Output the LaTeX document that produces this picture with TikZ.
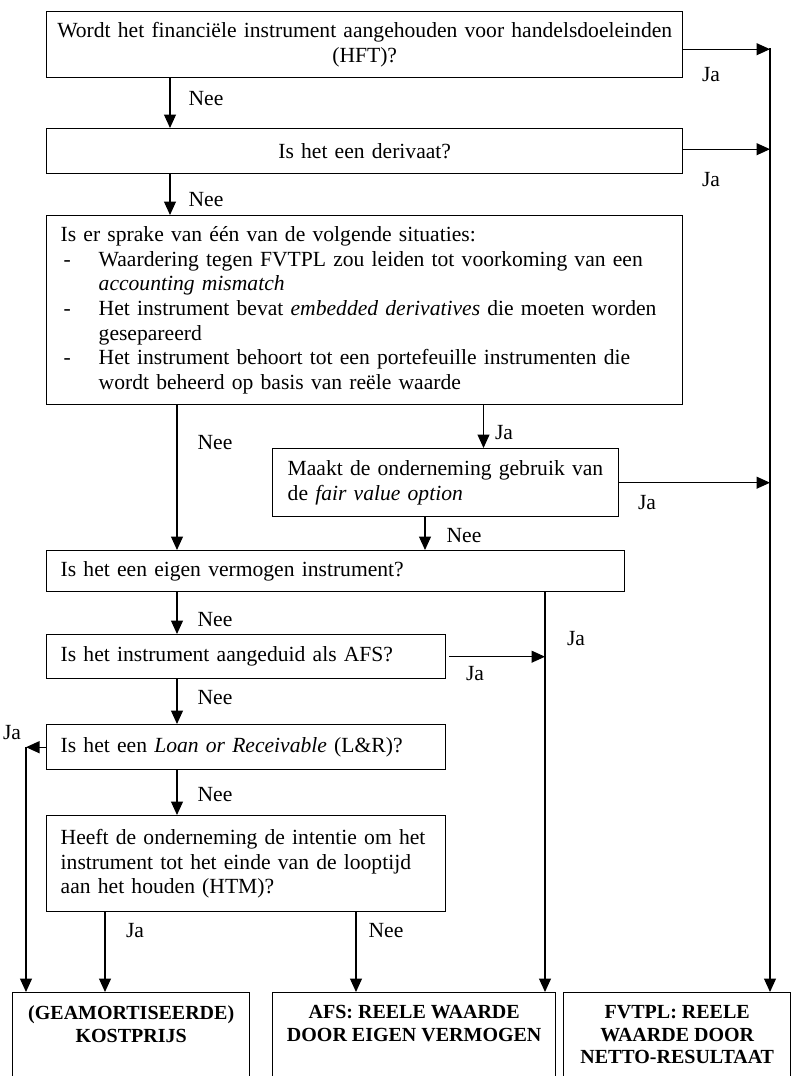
\documentclass[tikz,border=0pt]{standalone}
\usepackage{fontspec}
\setmainfont{Liberation Serif}
\usetikzlibrary{arrows.meta}
\newcommand\fsbody{\fontsize{21.6}{24.7}\selectfont}
\newcommand\fsbold{\fontsize{20}{22.5}\selectfont\bfseries}
\newcommand\ind{\makebox[38pt][l]{}}
\newcommand\dsh{\makebox[38pt][l]{\hspace{3pt}-}}
\begin{document}
\begin{tikzpicture}[x=1pt,y=-1pt,
  box/.style={draw,line width=1.4pt,anchor=north west,inner ysep=0pt,inner xsep=14pt,font=\fsbody},
  lbox/.style={box,align=left},
  endbox/.style={draw,line width=1.4pt,anchor=north west,inner sep=0pt},
  lab/.style={font=\fsbody,inner sep=0pt},
  arr/.style={line width=1.2pt,-{Triangle[length=13.5pt,width=12pt]}}]
\useasboundingbox (0,0) rectangle (794,1076);
\clip (0,0) rectangle (794,1076);

% boxes
\node[box,align=center,inner xsep=8pt,text width=620pt,minimum height=66pt] (b1) at (46,11)
  {Wordt het financiële instrument aangehouden voor handelsdoeleinden\\(HFT)?};
\node[box,align=center,inner xsep=8pt,text width=620pt,minimum height=45pt] (b2) at (46,128)
  {Is het een derivaat?};
\node[lbox,text width=608pt,minimum height=189pt] (b3) at (46,215)
  {\mbox{Is er sprake van één van de volgende situaties:}\\
   \mbox{\dsh Waardering tegen FVTPL zou leiden tot voorkoming van een}\\
   \mbox{\ind\textit{accounting mismatch}}\\
   \mbox{\dsh Het instrument bevat \textit{embedded derivatives} die moeten worden}\\
   \mbox{\ind gesepareerd}\\
   \mbox{\dsh Het instrument behoort tot een portefeuille instrumenten die}\\
   \mbox{\ind wordt beheerd op basis van reële waarde}};
\node[lbox,inner xsep=15pt,text width=316pt,minimum height=68pt] (fv) at (272,448)
  {\mbox{Maakt de onderneming gebruik van}\\\mbox{de \textit{fair value option}}};
\node[lbox,text width=550pt,minimum height=41pt] (ev) at (46,550)
  {\mbox{Is het een eigen vermogen instrument?}};
\node[lbox,text width=371pt,minimum height=44pt] (afs) at (46,634)
  {\mbox{Is het instrument aangeduid als AFS?}};
\node[lbox,text width=371pt,minimum height=45pt] (lr) at (46,724)
  {\mbox{Is het een \textit{Loan or Receivable} (L\&R)?}};
\node[lbox,text width=371pt,minimum height=96pt] (htm) at (46,815)
  {\mbox{Heeft de onderneming de intentie om het}\\
   \mbox{instrument tot het einde van de looptijd}\\
   \mbox{aan het houden (HTM)?}};

\node[endbox] (cA) at (12,992)
  {\parbox[c][150pt][t]{237pt}{\fsbold\centering\vspace*{13pt}(GEAMORTISEERDE)\\KOSTPRIJS}};
\node[endbox] (cB) at (272,992)
  {\parbox[c][150pt][t]{283pt}{\fsbold\centering\vspace*{13pt}AFS: REELE WAARDE\\DOOR EIGEN VERMOGEN}};
\node[endbox] (cC) at (563,992)
  {\parbox[c][150pt][t]{227pt}{\fsbold\centering\vspace*{13pt}FVTPL: REELE\\WAARDE DOOR\\NETTO-RESULTAAT}};

% helper coordinates
\coordinate (xA) at (170,0);
\coordinate (xB) at (177,0);
\coordinate (rt) at (770,48);
\coordinate (xJa) at (483.5,0);
\coordinate (xFN) at (425,0);
\coordinate (evx) at (545,0);
\coordinate (lx) at (26,0);
\coordinate (xH1) at (105,0);
\coordinate (xH2) at (356,0);

% connectors
\draw[arr] (b1.south -| xA) -- (b2.north -| xA);
\draw[arr] (b2.south -| xA) -- (b3.north -| xA);
\draw[arr] (b3.south -| xB) -- (ev.north -| xB);
\draw[arr] (b3.south -| xJa) -- (fv.north -| xJa);
\draw[arr] (fv.south -| xFN) -- (ev.north -| xFN);
\draw[arr] (ev.south -| xB) -- (afs.north -| xB);
\draw[arr] (afs.south -| xB) -- (lr.north -| xB);
\draw[arr] (lr.south -| xB) -- (htm.north -| xB);
\draw[arr] (htm.south -| xH1) -- (cA.north -| xH1);
\draw[arr] (htm.south -| xH2) -- (cB.north -| xH2);
\draw[arr] (ev.south -| evx) -- (cB.north -| evx);
\draw[arr] ([xshift=3pt]afs.east) -- (afs.east -| evx);
\draw[arr] (lr.west) -- (lr.west -| lx);
\draw[arr] (lr.west -| lx) -- (cA.north -| lx);
\draw[arr] ([yshift=-4.5pt]b1.east) -- ([yshift=-4.5pt]b1.east -| rt);
\draw[arr] ([yshift=2pt]b2.east) -- ([yshift=2pt]b2.east -| rt);
\draw[arr] (fv.east) -- (fv.east -| rt);
\draw[arr] (rt) -- (rt |- cC.north);

% labels
\node[lab] (j1) at (711,75) {Ja};
\node[lab] (n1) at (206,99) {Nee};
\node[lab] (j2) at (711,180) {Ja};
\node[lab] (n2) at (206,200) {Nee};
\node[lab] (n3) at (215,443) {Nee};
\node[lab] (j3) at (504,433) {Ja};
\node[lab] (j4) at (647,503) {Ja};
\node[lab] (n4) at (464,536) {Nee};
\node[lab] (j5) at (576,639) {Ja};
\node[lab] (n5) at (215,620) {Nee};
\node[lab] (j6) at (475,674) {Ja};
\node[lab] (n6) at (215,698) {Nee};
\node[lab] (j7) at (12,733) {Ja};
\node[lab] (n7) at (215,795) {Nee};
\node[lab] (j8) at (135,931) {Ja};
\node[lab] (n8) at (386,931) {Nee};
\end{tikzpicture}
\end{document}
